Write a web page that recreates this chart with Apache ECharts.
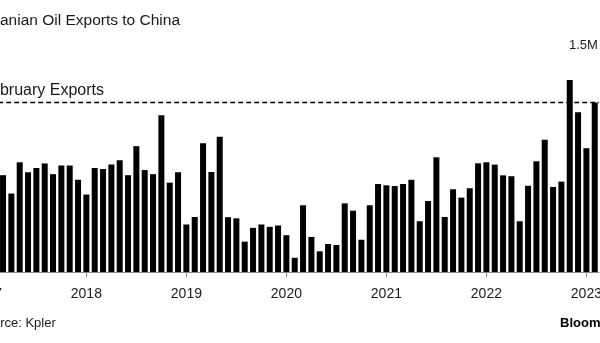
<!DOCTYPE html>
<html>
<head>
<meta charset="utf-8">
<script src="https://cdn.jsdelivr.net/npm/echarts@6/dist/echarts.min.js"></script>
<style>
  html, body { margin: 0; padding: 0; background: #fff; }
  #chart { width: 600px; height: 343px; }
</style>
</head>
<body>
<div id="chart"></div>
<script>
// Monthly categories, Jan 2017 - Feb 2023
const months = [
  '2017-01','2017-02','2017-03','2017-04','2017-05','2017-06','2017-07','2017-08','2017-09','2017-10','2017-11','2017-12',
  '2018-01','2018-02','2018-03','2018-04','2018-05','2018-06','2018-07','2018-08','2018-09','2018-10','2018-11','2018-12',
  '2019-01','2019-02','2019-03','2019-04','2019-05','2019-06','2019-07','2019-08','2019-09','2019-10','2019-11','2019-12',
  '2020-01','2020-02','2020-03','2020-04','2020-05','2020-06','2020-07','2020-08','2020-09','2020-10','2020-11','2020-12',
  '2021-01','2021-02','2021-03','2021-04','2021-05','2021-06','2021-07','2021-08','2021-09','2021-10','2021-11','2021-12',
  '2022-01','2022-02','2022-03','2022-04','2022-05','2022-06','2022-07','2022-08','2022-09','2022-10','2022-11','2022-12',
  '2023-01','2023-02'
];

// Iranian crude exports to China, thousand barrels a day
const exportsKbd = [
  null, null, 660, 535, 748, 680, 709, 740, 667, 726, 726, 629,
  528, 709, 702, 733, 762, 660, 858, 695, 667, 1069, 609, 680,
  324, 375, 878, 682, 922, 374, 366, 207, 301, 324, 308, 317,
  251, 97, 455, 239, 141, 191, 184, 468, 418, 220, 455, 600,
  591, 586, 600, 629, 346, 484, 782, 375, 564, 507, 571, 741,
  748, 732, 659, 653, 346, 588, 755, 901, 580, 616, 1309, 1090,
  844, 1155
];

// Value axis tick labels
const yTicks = [0, 1500];
const yTickLabels = { 1500: '1.5M' };

const febExports = exportsKbd[exportsKbd.length - 1];
const FONT = '"Liberation Sans", Arial, sans-serif';
const isYearStart = (i, v) => v.slice(5) === '01';

const chart = echarts.init(document.getElementById('chart'), null, { renderer: 'canvas' });
chart.setOption({
  animation: false,
  backgroundColor: '#ffffff',
  grid: { left: -17.8, right: 1.1, top: 52, bottom: 71, containLabel: false, outerBoundsMode: 'none' },
  xAxis: {
    type: 'category',
    data: months,
    boundaryGap: true,
    axisLine: { show: true, lineStyle: { color: '#8c8c8c', width: 1 } },
    axisTick: { show: true, interval: isYearStart, alignWithLabel: true, length: 5, lineStyle: { color: '#8c8c8c' } },
    axisLabel: {
      interval: isYearStart,
      formatter: v => v.slice(0, 4),
      margin: 15,
      fontFamily: FONT,
      fontSize: 14,
      color: '#1a1a1a',
      hideOverlap: false
    },
    splitLine: { show: false }
  },
  yAxis: {
    type: 'value',
    position: 'right',
    min: yTicks[0],
    max: yTicks[yTicks.length - 1],
    interval: yTicks[1] - yTicks[0],
    axisLine: { show: false },
    axisTick: { show: false },
    splitLine: { show: false },
    axisLabel: {
      inside: true,
      margin: 1,
      verticalAlign: 'bottom',
      formatter: v => yTickLabels[v] || '',
      fontFamily: FONT,
      fontSize: 13,
      color: '#1a1a1a'
    }
  },
  series: [{
    type: 'bar',
    data: exportsKbd,
    barWidth: '72%',
    itemStyle: { color: '#000000' },
    markLine: {
      silent: true,
      symbol: 'none',
      data: [{ yAxis: febExports }],
      lineStyle: { type: [5, 3], color: '#000000', width: 1.3 },
      label: { show: false }
    }
  }],
  graphic: [
    {
      type: 'text', left: -9.5, top: 13,
      style: { text: 'Iranian Oil Exports to China', font: '15.5px ' + FONT, fill: '#1a1a1a' }
    },
    {
      type: 'text', left: -18.7, top: 83,
      style: { text: 'February Exports', font: '16px ' + FONT, fill: '#1a1a1a' }
    },
    {
      type: 'text', left: -23, top: 317,
      style: { text: 'Source: Kpler', font: '13px ' + FONT, fill: '#1a1a1a' }
    },
    {
      type: 'text', left: 560, top: 317,
      style: { text: 'Bloomberg', font: 'bold 13px ' + FONT, fill: '#000000' }
    }
  ]
});
</script>
</body>
</html>
